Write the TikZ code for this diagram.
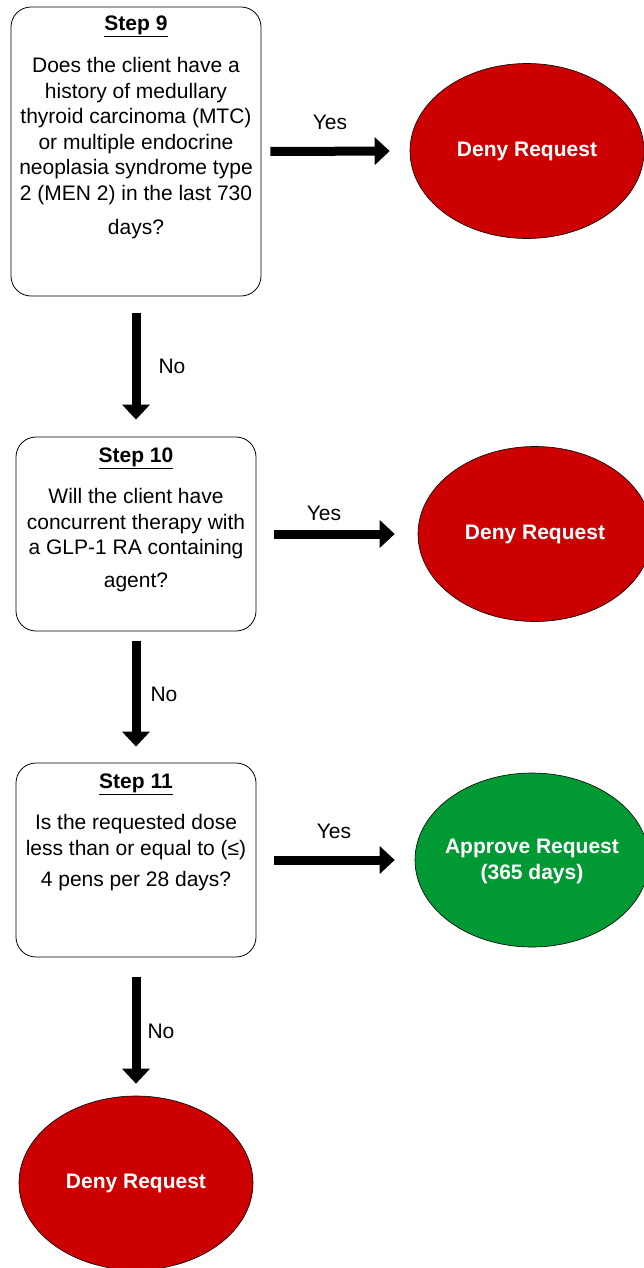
\documentclass[tikz,border=0pt]{standalone}
\usepackage{fontspec}
\setmainfont{Liberation Sans}
\usetikzlibrary{arrows.meta,shapes.geometric}
\definecolor{denyred}{RGB}{204,0,0}
\definecolor{okgreen}{RGB}{0,153,51}
\begin{document}
\begin{tikzpicture}[x=1pt,y=-1pt,
  every node/.style={font=\fontsize{21}{25.6}\selectfont, inner sep=0pt},
  stepbox/.style={draw=black, line width=0.8pt, rounded corners=20pt, minimum width=#1, minimum height=240pt},
  bodytext/.style={align=center, anchor=north},
  titletext/.style={font=\fontsize{21}{25.6}\selectfont\bfseries, anchor=base},
  outcome/.style={ellipse, draw=black, line width=0.6pt, fill=#1, minimum width=234pt, minimum height=175pt},
  outtext/.style={text=white, align=center, font=\fontsize{21}{26}\selectfont\bfseries},
  bigarrow/.style={line width=9pt, -{Triangle[width=27pt,length=15pt]}},
  lbl/.style={anchor=center}
]
\useasboundingbox (0,0) rectangle (644,1268);
\clip (0,0) rectangle (644,1268);

% Step boxes
\node[stepbox=250pt, minimum height=289pt] (b9) at (136,151.5) {};
\node[stepbox=240pt, minimum height=194pt] (b10) at (136,534) {};
\node[stepbox=240pt, minimum height=194pt] (b11) at (136,860) {};

% Titles
\node[titletext] (s9) at (136,30.5) {\underline{Step 9}};
\node[titletext] (s10) at (136,462.5) {\underline{Step 10}};
\node[titletext] (s11) at (136,788.5) {\underline{Step 11}};

% Body texts
\node[bodytext] (t9) at (136,57) {Does the client have a\\history of medullary\\thyroid carcinoma (MTC)\\or multiple endocrine\\neoplasia syndrome type\\2 (MEN 2) in the last 730\\[8.4pt]days?};
\node[bodytext] (t10) at (136,488) {Will the client have\\concurrent therapy with\\a GLP-1 RA containing\\[7pt]agent?};
\node[bodytext] (t11) at (136,814) {Is the requested dose\\less than or equal to (≤)\\[6pt]4 pens per 28 days?};

% Outcomes
\node[outcome=denyred] (d1) at (527,151) {};
\node[outcome=denyred] (d2) at (535,534) {};
\node[outcome=okgreen, minimum height=174pt] (a3) at (532,860) {};
\node[outcome=denyred, minimum height=174pt] (d4) at (136,1183) {};
\node[outtext] (d1t) at ([yshift=-0.5pt]d1.center) {Deny Request};
\node[outtext] (d2t) at ([yshift=-0.5pt]d2.center) {Deny Request};
\node[outtext] (a3t) at ([yshift=-1.5pt]a3.center) {Approve Request\\(365 days)};
\node[outtext] (d4t) at ([yshift=-0.5pt]d4.center) {Deny Request};

% Yes arrows
\draw[bigarrow, shorten <=9pt, shorten >=20pt] (b9.east) -- (d1.west);
\draw[bigarrow, shorten <=18pt, shorten >=23pt] (b10.east) -- (d2.west);
\draw[bigarrow, shorten <=18pt, shorten >=20pt] (b11.east) -- (a3.west);
\node[lbl] (y1) at (330,122) {Yes};
\node[lbl] (y2) at (324,513) {Yes};
\node[lbl] (y3) at (334,831) {Yes};

% No arrows
\draw[bigarrow, shorten <=17pt, shorten >=17pt] (b9.south) -- (b10.north);
\draw[bigarrow, shorten <=10pt, shorten >=16pt] (b10.south) -- (b11.north);
\draw[bigarrow, shorten <=20pt, shorten >=12pt] (b11.south) -- (d4.north);
\node[lbl] (n1) at (172,366) {No};
\node[lbl] (n2) at (164,694) {No};
\node[lbl] (n3) at (161,1031) {No};
\end{tikzpicture}
\end{document}
